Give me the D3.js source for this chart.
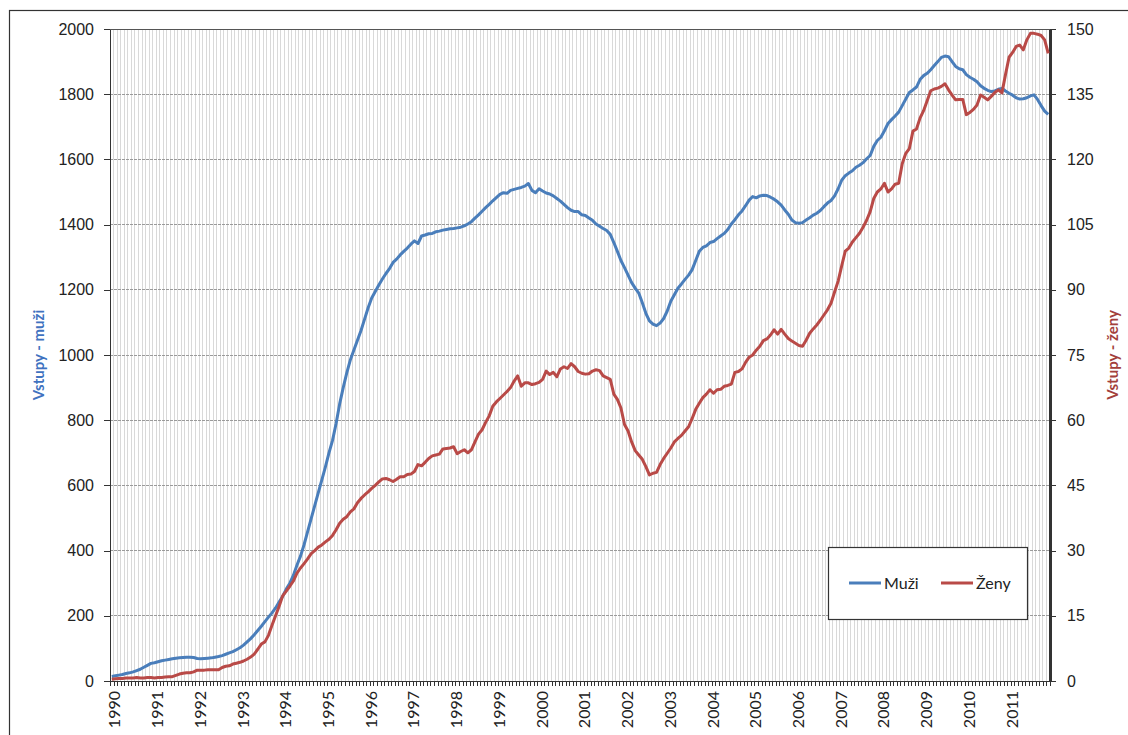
<!DOCTYPE html>
<html lang="cs">
<head>
<meta charset="UTF-8">
<title>Vstupy - muži a ženy</title>
<script src="https://d3js.org/d3.v7.min.js"></script>
<style>
    body { margin: 0; background: #fff; }
    svg { display: block; font-family: Lato, "Open Sans", sans-serif; }
    .grid-v line { stroke: #d9d9d9; stroke-width: 1px; shape-rendering: crispEdges; }
    .grid-h line { stroke: #9a9a9a; stroke-width: 1px; stroke-dasharray: 3,1; shape-rendering: crispEdges; }
    .axis text { font-size: 16px; fill: #222; }
    .axis path, .axis line { stroke: #333; shape-rendering: crispEdges; }
</style>
</head>
<body>
<svg width="1128" height="735"></svg>
<script>
// first year of the monthly series, Jan 1990 .. Dec 2011
const startYear = 1990;
const years = d3.range(1990, 2012);

const leftTicks = [0, 200, 400, 600, 800, 1000, 1200, 1400, 1600, 1800, 2000];
const rightTicks = [0, 15, 30, 45, 60, 75, 90, 105, 120, 135, 150];

// Vstupy - muži (monthly)
const muzi = [
    14,16,18,20,23,25,28,32,36,42,48,54,
    56,59,62,64,66,68,70,71,72,73,73,72,
    69,68,69,70,71,73,75,78,82,86,90,96,
    102,110,120,130,142,155,168,182,196,209,224,242,
    260,282,300,324,355,383,418,458,498,538,578,617,
    657,700,738,790,850,900,945,985,1015,1045,1075,1110,
    1145,1175,1195,1215,1233,1250,1265,1284,1294,1307,1318,1328,
    1340,1350,1342,1365,1368,1372,1373,1378,1380,1383,1385,1387,
    1388,1390,1392,1396,1402,1409,1420,1430,1441,1452,1462,1473,
    1483,1493,1498,1496,1505,1508,1511,1514,1518,1526,1505,1498,
    1510,1503,1497,1494,1488,1480,1472,1462,1452,1444,1440,1440,
    1430,1428,1420,1413,1402,1395,1388,1382,1370,1345,1318,1290,
    1268,1245,1222,1205,1190,1160,1128,1105,1095,1090,1098,1112,
    1135,1165,1185,1205,1218,1232,1245,1262,1290,1318,1330,1335,
    1345,1348,1357,1365,1373,1385,1402,1415,1430,1442,1458,1475,
    1486,1482,1488,1490,1489,1484,1478,1470,1460,1445,1432,1414,
    1406,1404,1406,1414,1421,1429,1435,1443,1455,1466,1474,1488,
    1510,1536,1550,1558,1565,1576,1582,1590,1602,1612,1640,1658,
    1668,1688,1710,1722,1733,1745,1765,1785,1805,1813,1822,1845,
    1857,1864,1875,1888,1900,1913,1917,1915,1900,1885,1878,1875,
    1860,1852,1846,1838,1826,1818,1812,1808,1810,1815,1818,1810,
    1803,1797,1789,1785,1786,1789,1795,1798,1784,1765,1748,1738
];

// Vstupy - ženy (monthly, right axis)
const zeny = [
    0.4,0.5,0.6,0.6,0.7,0.7,0.7,0.8,0.7,0.7,0.8,0.8,
    0.7,0.8,0.8,0.9,1.0,1.0,1.3,1.6,1.8,1.9,1.9,2.1,
    2.5,2.5,2.5,2.6,2.6,2.6,2.6,3.1,3.4,3.5,3.9,4.1,
    4.3,4.6,5.0,5.5,6.2,7.3,8.5,9.0,10.5,12.8,15.0,17.2,
    19.6,20.7,21.8,23.0,24.8,26.0,27.0,28.1,29.3,30.0,30.8,31.3,
    32.0,32.6,33.5,34.8,36.3,37.2,37.8,38.9,39.6,41.0,42.0,42.8,
    43.5,44.3,45.0,45.8,46.5,46.6,46.3,45.9,46.4,47.0,47.0,47.5,
    47.6,48.2,49.8,49.5,50.3,51.2,51.8,52.0,52.2,53.4,53.5,53.6,
    53.9,52.3,52.8,53.2,52.5,53.2,55.0,56.8,57.8,59.5,61.0,63.2,
    64.2,65.0,65.8,66.6,67.5,69.0,70.2,67.8,68.6,68.6,68.2,68.4,
    68.7,69.4,71.3,70.5,71.0,70.0,71.8,72.3,71.9,73.0,72.3,71.2,
    70.8,70.6,70.7,71.3,71.6,71.4,70.2,69.8,69.4,66.0,64.8,62.8,
    59.0,57.5,55.0,53.0,52.0,51.0,49.3,47.4,47.8,48.0,49.8,51.2,
    52.4,53.6,55.0,55.8,56.5,57.5,58.5,60.4,62.5,63.9,65.2,66.0,
    67.0,66.2,67.0,67.1,67.8,68.0,68.3,71.0,71.2,71.8,73.3,74.5,
    75.0,76.1,77.0,78.3,78.7,79.6,80.8,79.8,80.9,79.8,78.8,78.2,
    77.7,77.2,77.0,78.4,80.0,81.0,81.9,83.0,84.2,85.4,86.9,89.5,
    92.0,95.5,98.9,99.6,101.0,102.0,103.0,104.4,106.0,108.0,111.0,112.5,
    113.2,114.5,112.5,113.2,114.3,114.5,119.0,121.4,122.5,126.5,127.0,129.5,
    131.2,133.5,135.8,136.2,136.4,136.8,137.4,136.0,134.8,133.7,133.8,133.8,
    130.3,130.8,131.5,132.5,134.8,134.3,133.7,134.5,135.4,136.0,135.3,139.5,
    143.5,144.6,146.0,146.3,145.2,147.5,149.0,149.0,148.8,148.5,147.5,144.4
];

const blue = "#4a7ebb";
const red = "#b94a47";

const svg = d3.select("svg");
const width = +svg.attr("width");
const height = +svg.attr("height");

const plotLeft = 110, plotRight = 1050, plotTop = 29, plotBottom = 681;
const n = muzi.length;

const x = d3.scaleLinear().domain([0, n]).range([plotLeft, plotRight]);
const yL = d3.scaleLinear().domain([0, 2000]).range([plotBottom, plotTop]);
const yR = d3.scaleLinear().domain([0, 150]).range([plotBottom, plotTop]);

// outer chart border
svg.append("rect")
    .attr("x", 9.5).attr("y", 10.5)
    .attr("width", width).attr("height", height)
    .attr("fill", "#fff")
    .attr("stroke", "#333")
    .attr("stroke-width", 1.2);

// vertical month gridlines
svg.append("g").attr("class", "grid-v")
    .selectAll("line")
    .data(d3.range(1, n))
    .enter().append("line")
    .attr("x1", d => x(d)).attr("x2", d => x(d))
    .attr("y1", plotTop).attr("y2", plotBottom);

// horizontal gridlines
svg.append("g").attr("class", "grid-h")
    .selectAll("line")
    .data(leftTicks.slice(1))
    .enter().append("line")
    .attr("x1", plotLeft).attr("x2", plotRight)
    .attr("y1", d => yL(d)).attr("y2", d => yL(d));

// plot area top border
svg.append("line")
    .attr("x1", plotLeft).attr("x2", plotRight)
    .attr("y1", plotTop + 0.5).attr("y2", plotTop + 0.5)
    .attr("stroke", "#555");

// left axis
const axL = svg.append("g").attr("class", "axis")
    .attr("transform", `translate(${plotLeft},0)`)
    .call(d3.axisLeft(yL).tickValues(leftTicks).tickFormat(d3.format("d"))
        .tickSize(6).tickSizeOuter(0).tickPadding(10));
axL.select(".domain").attr("stroke-width", 1.5);

// right axis
const axR = svg.append("g").attr("class", "axis")
    .attr("transform", `translate(${plotRight},0)`)
    .call(d3.axisRight(yR).tickValues(rightTicks).tickFormat(d3.format("d"))
        .tickSize(6).tickSizeOuter(0).tickPadding(11));
axR.select(".domain").attr("stroke-width", 2.5).attr("stroke", "#111");

// bottom axis: month ticks
svg.append("g").attr("class", "axis")
    .attr("transform", `translate(0,${plotBottom})`)
    .call(d3.axisBottom(x).tickValues(d3.range(0, n + 1)).tickSize(5).tickSizeOuter(0).tickFormat(""))
    .select(".domain").attr("stroke-width", 1.5);

// year labels, rotated
svg.append("g").attr("class", "axis")
    .selectAll("text")
    .data(years)
    .enter().append("text")
    .attr("transform", d => `translate(${x((d - startYear) * 12 + 0.5) + 3},${plotBottom + 10}) rotate(-90)`)
    .attr("text-anchor", "end")
    .attr("dy", "0.35em")
    .text(d => d);

// lines
const lineL = d3.line().x((d, i) => x(i + 0.5)).y(d => yL(d));
const lineR = d3.line().x((d, i) => x(i + 0.5)).y(d => yR(d));

svg.append("path").datum(muzi)
    .attr("d", lineL)
    .attr("fill", "none").attr("stroke", blue)
    .attr("stroke-width", 3).attr("stroke-linejoin", "round");

svg.append("path").datum(zeny)
    .attr("d", lineR)
    .attr("fill", "none").attr("stroke", red)
    .attr("stroke-width", 3).attr("stroke-linejoin", "round");

// axis titles
svg.append("text")
    .attr("transform", `translate(44,${(plotTop + plotBottom) / 2}) rotate(-90)`)
    .attr("text-anchor", "middle")
    .attr("font-size", 15).attr("font-weight", "bold")
    .attr("fill", "#3f72c0")
    .text("Vstupy - muži");

svg.append("text")
    .attr("transform", `translate(1113,${(plotTop + plotBottom) / 2}) rotate(-90)`)
    .attr("text-anchor", "middle")
    .attr("dy", "0.35em")
    .attr("font-size", 15).attr("font-weight", "bold")
    .attr("fill", "#a33f3c")
    .text("Vstupy - ženy");

// legend
const legend = svg.append("g").attr("transform", "translate(828,547)");
legend.append("rect")
    .attr("x", 0.5).attr("y", 0.5)
    .attr("width", 199).attr("height", 72)
    .attr("fill", "#fff").attr("stroke", "#333").attr("stroke-width", 1.2);

const items = [{name: "Muži", color: blue, x: 21}, {name: "Ženy", color: red, x: 113}];
items.forEach(it => {
    legend.append("line")
        .attr("x1", it.x).attr("x2", it.x + 32)
        .attr("y1", 36).attr("y2", 36)
        .attr("stroke", it.color).attr("stroke-width", 3);
    legend.append("text")
        .attr("x", it.x + 35).attr("y", 36)
        .attr("dy", "0.35em")
        .attr("font-size", 16).attr("fill", "#222")
        .text(it.name);
});
</script>
</body>
</html>
